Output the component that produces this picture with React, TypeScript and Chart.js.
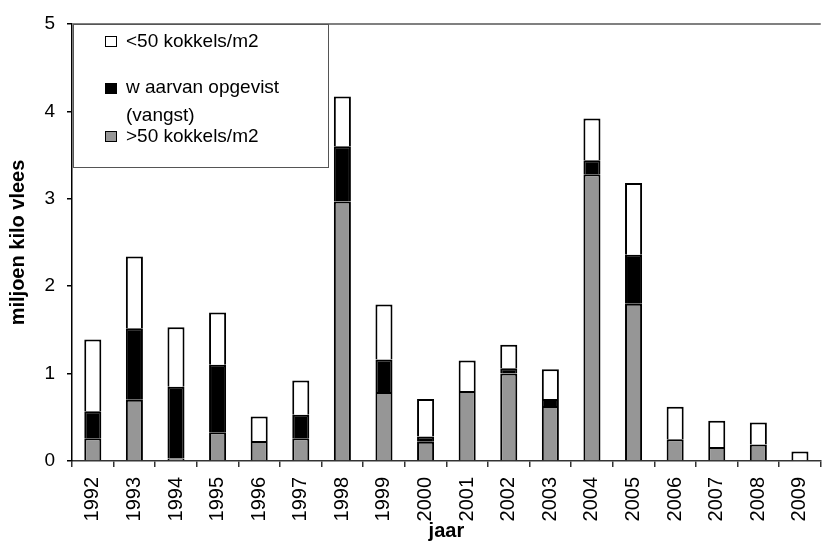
import React, { useEffect, useRef } from "react";
import { Chart, registerables } from "chart.js";

Chart.register(...registerables);

const years = ["1992","1993","1994","1995","1996","1997","1998","1999","2000","2001","2002","2003","2004","2005","2006","2007","2008","2009"];
const above50 = [0.26, 0.70, 0.03, 0.33, 0.23, 0.26, 2.97, 0.79, 0.22, 0.80, 1.00, 0.63, 3.28, 1.80, 0.25, 0.16, 0.19, 0];
const harvested = [0.31, 0.82, 0.82, 0.77, 0, 0.27, 0.63, 0.37, 0.06, 0, 0.06, 0.08, 0.16, 0.56, 0, 0, 0, 0];
const below50 = [0.82, 0.82, 0.68, 0.60, 0.28, 0.39, 0.57, 0.63, 0.43, 0.35, 0.27, 0.34, 0.48, 0.82, 0.37, 0.30, 0.25, 0.11];
const yTicks = [0, 1, 2, 3, 4, 5];

const legendItems = [
  { lines: ["<50 kokkels/m2"], color: "#ffffff" },
  { lines: ["w aarvan opgevist", "(vangst)"], color: "#000000" },
  { lines: [">50 kokkels/m2"], color: "#969696" },
];

const FONT = "'Liberation Sans', Arial, sans-serif";

const customPlugin = {
  id: "custom",
  afterDraw(chart: any) {
    const { ctx, chartArea } = chart;
    ctx.save();
    ctx.strokeStyle = "#808080";
    ctx.lineWidth = 2;
    ctx.beginPath();
    ctx.moveTo(chartArea.left, chartArea.top);
    ctx.lineTo(chartArea.right, chartArea.top);
    ctx.stroke();
    const lx = chartArea.left + 1, ly = chartArea.top, lw = 255, lh = 143;
    ctx.fillStyle = "#ffffff";
    ctx.fillRect(lx, ly, lw, lh);
    ctx.strokeStyle = "#555555";
    ctx.lineWidth = 1;
    ctx.strokeRect(lx + 0.5, ly + 0.5, lw, lh);
    ctx.font = `19px ${FONT}`;
    ctx.textBaseline = "middle";
    const boxY = [36, 83, 131];
    const textY = [[42], [88, 116], [137]];
    legendItems.forEach((it, i) => {
      ctx.fillStyle = it.color;
      ctx.fillRect(105, boxY[i], 12, 11);
      ctx.strokeStyle = "#000";
      ctx.lineWidth = 1;
      ctx.strokeRect(105.5, boxY[i] + 0.5, 11, 10);
      ctx.fillStyle = "#000";
      it.lines.forEach((t, j) => ctx.fillText(t, 126, textY[i][j]));
    });
    ctx.restore();
  },
};

export default function App() {
  const ref = useRef<HTMLCanvasElement>(null);
  useEffect(() => {
    if (!ref.current) return;
    const common = { borderColor: "#000", borderWidth: 2, stack: "s", barPercentage: 0.41, categoryPercentage: 1 };
    const chart = new Chart(ref.current, {
      type: "bar",
      data: {
        labels: years,
        datasets: [
          { label: ">50 kokkels/m2", data: above50, backgroundColor: "#969696", ...common },
          { label: "waarvan opgevist (vangst)", data: harvested, backgroundColor: "#000000", ...common },
          { label: "<50 kokkels/m2", data: below50, backgroundColor: "#ffffff", ...common },
        ],
      },
      options: {
        animation: false,
        responsive: false,
        layout: { padding: { left: 0, top: 24, right: 2, bottom: 0 } },
        plugins: { legend: { display: false }, tooltip: { enabled: false } },
        scales: {
          x: {
            stacked: true,
            grid: { offset: true, drawOnChartArea: false, tickLength: 6, color: "#333", lineWidth: 1.5 },
            border: { display: true, color: "#333", width: 1.5 },
            ticks: { color: "#000", font: { family: FONT, size: 20 }, maxRotation: 90, minRotation: 90, padding: 10, autoSkip: false },
            title: { display: true, text: "jaar", color: "#000", font: { family: FONT, size: 20, weight: "bold", lineHeight: 1 }, padding: { top: 0, bottom: 0 } },
            afterFit: (s: any) => { s.height = 80; },
          },
          y: {
            stacked: true,
            min: 0,
            max: 5,
            afterBuildTicks: (s: any) => { s.ticks = yTicks.map((v) => ({ value: v })); },
            grid: { drawOnChartArea: false, tickLength: 5, color: "#000", lineWidth: 1.5 },
            border: { display: true, color: "#000", width: 1.5 },
            ticks: { color: "#000", font: { family: FONT, size: 19 }, padding: 12 },
            title: { display: true, text: "miljoen kilo vlees", color: "#000", font: { family: FONT, size: 20, weight: "bold", lineHeight: 1.2 }, padding: { top: 6, bottom: 0 } },
            afterFit: (s: any) => { s.width = 72; },
          },
        },
      },
      plugins: [customPlugin],
    });
    return () => chart.destroy();
  }, []);
  return (
    <div style={{ position: "fixed", left: 0, top: 0, width: 834, height: 541, background: "#fff" }}>
      <canvas ref={ref} width={834} height={541} />
    </div>
  );
}
